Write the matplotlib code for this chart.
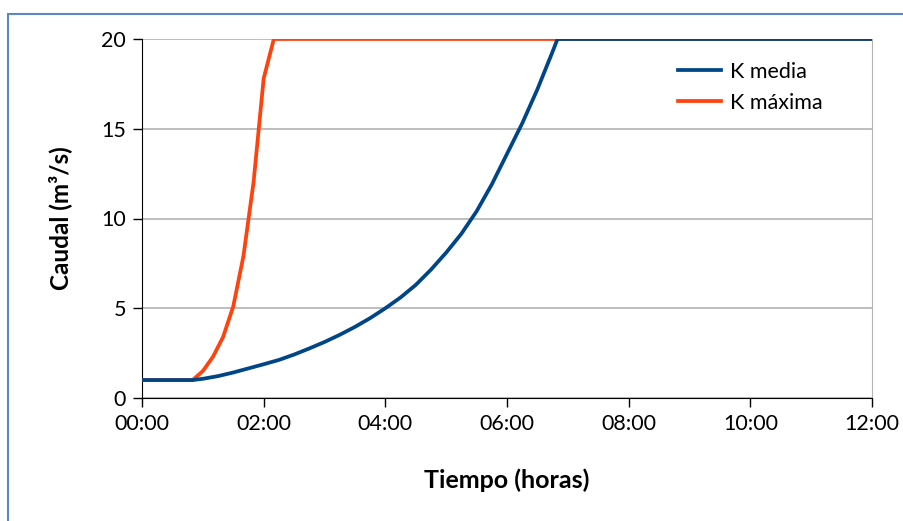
"""
Caudal vs tiempo, K media / K máxima
"""

import matplotlib
matplotlib.use('Agg')
from matplotlib import pyplot as plt
from matplotlib.patches import Rectangle

plt.rcParams['font.family'] = ['Lato', 'DejaVu Sans']

# horas
t_media = [0, 0.5, 0.833, 1.0, 1.25, 1.5, 1.75, 2.0, 2.25, 2.5, 2.75, 3.0, 3.25, 3.5, 3.75,
           4.0, 4.25, 4.5, 4.75, 5.0, 5.25, 5.5, 5.75, 6.0, 6.25, 6.5, 6.75, 6.83, 12]
q_media = [1, 1, 1, 1.07, 1.22, 1.42, 1.65, 1.88, 2.12, 2.42, 2.76, 3.12, 3.52, 3.96, 4.45,
           5.0, 5.6, 6.3, 7.15, 8.1, 9.15, 10.4, 11.9, 13.6, 15.3, 17.2, 19.3, 20, 20]

t_max = [0, 0.5, 0.833, 1.0, 1.167, 1.333, 1.5, 1.667, 1.833, 2.0, 2.167, 12]
q_max = [1, 1, 1, 1.5, 2.3, 3.4, 5.1, 7.9, 12.0, 17.8, 20, 20]

xticks = [0, 2, 4, 6, 8, 10, 12]
xlabels = ['00:00', '02:00', '04:00', '06:00', '08:00', '10:00', '12:00']
yticks = [0, 5, 10, 15, 20]

fig = plt.figure(figsize=(9.04, 5.21), dpi=100)
ax = fig.add_axes([142/904, 1 - 398/521, 730/904, 359/521])

# borde azul del marco
fig.patches.append(Rectangle((8/904, -0.2), 1.2, 1 - 14/521 + 0.2, transform=fig.transFigure,
                             fill=False, edgecolor='#5b87c6', linewidth=1.5))

ax.plot(t_media, q_media, color='#004586', lw=2.7, label='K media', zorder=4)
ax.plot(t_max, q_max, color='#ff420e', lw=2.7, label='K máxima', zorder=3)

ax.set_xlim(0, 12)
ax.set_ylim(0, 20)
ax.set_xticks(xticks)
ax.set_xticklabels(xlabels)
ax.set_yticks(yticks)
ax.yaxis.grid(True, color='#b3b3b3', lw=1.2)
ax.set_axisbelow(True)
ax.tick_params(direction='out', length=6.5, width=1, labelsize=15.5, pad=5, color='black')

ax.spines['top'].set_visible(False)
ax.spines['right'].set_color('#b3b3b3')
ax.spines['left'].set_color('black')
ax.spines['bottom'].set_color('black')

ax.set_xlabel('Tiempo (horas)', fontsize=18, fontweight='bold', labelpad=25)
ax.set_ylabel('Caudal (m³/s)', fontsize=17.5, fontweight='bold', labelpad=21)

ax.legend(loc='upper left', bbox_to_anchor=(0.708, 0.99), frameon=False, fontsize=15.5,
          handlelength=2.0, handletextpad=0.4, labelspacing=0.5)

plt.savefig('out.png', dpi=100)
